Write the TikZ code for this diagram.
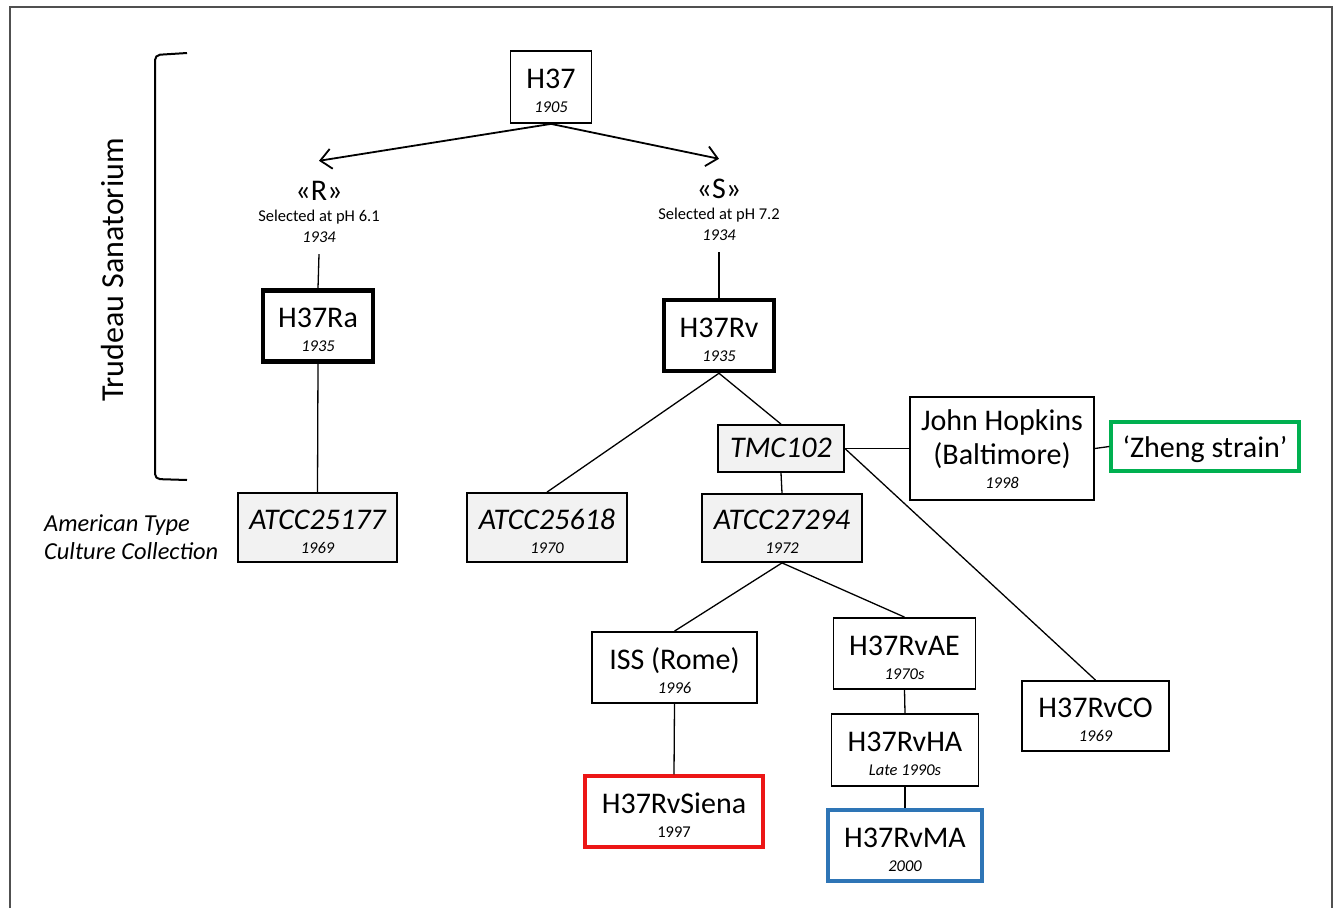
\documentclass[tikz,border=0pt]{standalone}
\usepackage{fontspec}
\setmainfont{Carlito}
\usetikzlibrary{arrows.meta}
\definecolor{sienared}{RGB}{236,22,22}
\definecolor{mablue}{RGB}{46,117,182}
\definecolor{zhenggreen}{RGB}{0,176,80}
\definecolor{framegray}{RGB}{80,80,80}
\newcommand{\yearit}[1]{{\fontsize{16.5}{24}\selectfont\itshape #1}}
\newcommand{\yearup}[1]{{\fontsize{16.5}{24}\selectfont #1}}
\tikzset{
    strainbox/.style={rectangle, draw=black, line width=1.8pt, fill=white,
        align=center, inner sep=0pt, text height=51pt, text depth=0pt,
        font=\fontsize{30}{24}\selectfont},
    keybox/.style={strainbox, line width=4.5pt},
    atccbox/.style={strainbox, fill=black!5, font=\fontsize{30}{24}\selectfont\itshape},
    sienabox/.style={strainbox, draw=sienared, line width=3.4pt},
    mabox/.style={strainbox, draw=mablue, line width=3.4pt},
    zhengbox/.style={strainbox, draw=zhenggreen, line width=3.4pt, text height=22.4pt},
    selnote/.style={rectangle, inner sep=0pt, align=center, text height=69pt, text depth=0pt,
        font=\fontsize{30}{21}\selectfont},
    treeline/.style={line width=1.3pt, black},
    treearrow/.style={-{Straight Barb[length=11pt, width=20pt]}, line width=1.8pt, black},
}

\begin{document}
\begin{tikzpicture}[x=1pt, y=-1pt]
    \useasboundingbox (0,0) rectangle (1336,908);
    \draw[framegray, line width=2pt] (10,908) -- (10,7) -- (1332,7) -- (1332,908);

    % bracket and side labels
    \draw[line width=2pt, rounded corners=5pt] (187,53) -- (155,55) -- (155,479) -- (187,480);
    \node[rotate=90, font=\fontsize{32}{32}\selectfont] (trudeau) at (113,270) {Trudeau Sanatorium};
    \node[anchor=west, align=left, inner sep=0pt, font=\fontsize{24.4}{28}\selectfont\itshape] (atcclabel) at (44,537) {American Type\\Culture Collection};

    % strains
    \node[strainbox, minimum width=81pt, minimum height=72pt] (h37) at (551,87) {H37\\\yearit{1905}};
    \node[selnote, minimum height=93pt] (rsel) at (319,207.5) {«R»\\\yearup{Selected at pH 6.1}\\\yearit{1934}};
    \node[selnote, minimum height=93pt] (ssel) at (719,205.5) {«S»\\\yearup{Selected at pH 7.2}\\\yearit{1934}};
    \node[keybox, minimum width=110pt, minimum height=71pt] (ra) at (318,326) {H37Ra\\\yearit{1935}};
    \node[keybox, minimum width=110pt, minimum height=71pt] (rv) at (719,335.5) {H37Rv\\\yearit{1935}};
    \node[atccbox, minimum width=159pt, minimum height=69pt] (atcc25177) at (317.5,527.5) {ATCC25177\\\yearit{1969}};
    \node[atccbox, minimum width=160pt, minimum height=69pt] (atcc25618) at (547,527.5) {ATCC25618\\\yearit{1970}};
    \node[atccbox, text height=18.5pt, minimum width=126pt, minimum height=47pt] (tmc) at (781,448.5) {TMC102};
    \node[strainbox, text height=80pt, minimum width=184pt, minimum height=103pt, font=\fontsize{30}{34}\selectfont] (jh) at (1002,448.5) {John Hopkins\\(Baltimore)\\[-10pt]\yearit{1998}};
    \node[zhengbox, minimum width=188pt, minimum height=49pt] (zheng) at (1205,446.5) {‘Zheng strain’};
    \node[atccbox, minimum width=160pt, minimum height=68pt] (atcc27294) at (782,528) {ATCC27294\\\yearit{1972}};
    \node[strainbox, minimum width=147pt, minimum height=70pt] (co) at (1095.5,716) {H37RvCO\\\yearit{1969}};
    \node[strainbox, minimum width=165pt, minimum height=71pt] (iss) at (674.5,667.5) {ISS (Rome)\\\yearit{1996}};
    \node[sienabox, minimum width=178pt, minimum height=71pt] (siena) at (674,811.5) {H37RvSiena\\\yearup{1997}};
    \node[strainbox, minimum width=142pt, minimum height=71pt] (ae) at (904.5,653.5) {H37RvAE\\\yearit{1970s}};
    \node[strainbox, minimum width=147pt, minimum height=72pt] (ha) at (905,750) {H37RvHA\\\yearit{Late 1990s}};
    \node[mabox, minimum width=154pt, minimum height=71pt] (ma) at (905,845.5) {H37RvMA\\\yearit{2000}};

    % connectors
    \draw[treearrow] (h37.south) -- (rsel.north);
    \draw[treearrow] (h37.south) -- (ssel.north);
    \draw[treeline] (rsel.south) -- (ra.north);
    \draw[treeline] (ssel.south) -- (rv.north);
    \draw[treeline] (ra.south) -- (atcc25177.north);
    \draw[treeline] (rv.south) -- (atcc25618.north);
    \draw[treeline] (rv.south) -- (tmc.north);
    \draw[treeline] (tmc.east) -- (jh.west);
    \draw[treeline] (jh.east) -- (zheng.west);
    \draw[treeline] (tmc.east) -- (co.north);
    \draw[treeline] (tmc.south) -- (atcc27294.north);
    \draw[treeline] (atcc27294.south) -- (iss.north);
    \draw[treeline] (atcc27294.south) -- (ae.north);
    \draw[treeline] (iss.south) -- (siena.north);
    \draw[treeline] (ae.south) -- (ha.north);
    \draw[treeline] (ha.south) -- (ma.north);
\end{tikzpicture}
\end{document}
